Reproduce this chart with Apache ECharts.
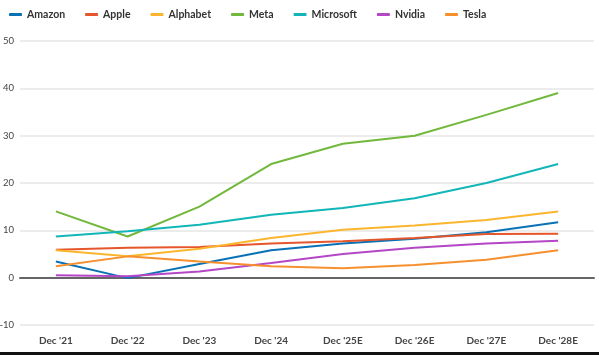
<!DOCTYPE html>
<html>
<head>
<meta charset="utf-8">
<script src="https://cdn.jsdelivr.net/npm/echarts@6/dist/echarts.min.js"></script>
<style>
html,body{margin:0;padding:0;background:#fff;}
#chart{width:599px;height:355px;}
</style>
</head>
<body>
<div id="chart"></div>
<script>
const categories = ["Dec '21","Dec '22","Dec '23","Dec '24","Dec '25E","Dec '26E","Dec '27E","Dec '28E"];
const amazon    = [3.4, -0.1, 2.9, 5.8, 7.2, 8.2, 9.6, 11.7];
const apple     = [5.9, 6.3, 6.5, 7.2, 7.7, 8.4, 9.2, 9.3];
const alphabet  = [5.8, 4.5, 6.1, 8.4, 10.1, 11.0, 12.2, 14.0];
const meta      = [14.0, 8.7, 15.0, 24.0, 28.3, 30.0, 34.4, 39.0];
const microsoft = [8.7, 9.8, 11.2, 13.3, 14.7, 16.8, 20.0, 24.0];
const nvidia    = [0.5, 0.3, 1.3, 3.1, 5.0, 6.3, 7.2, 7.8];
const tesla     = [2.4, 4.5, 3.4, 2.4, 2.0, 2.7, 3.8, 5.8];
const yTicks = [-10, 0, 10, 20, 30, 40, 50];

const seriesDefs = [
  ["Amazon", amazon, "#0a72b4"],
  ["Apple", apple, "#e6562b"],
  ["Alphabet", alphabet, "#fbb62e"],
  ["Meta", meta, "#72b83c"],
  ["Microsoft", microsoft, "#12b6b8"],
  ["Nvidia", nvidia, "#b447c6"],
  ["Tesla", tesla, "#f6902f"]
];

const chart = echarts.init(document.getElementById('chart'), null, {renderer:'canvas'});
chart.setOption({
  animation: false,
  backgroundColor: '#ffffff',
  textStyle: {fontFamily: 'Lato, "Noto Sans", sans-serif'},
  legend: {
    top: 4, left: 4,
    icon: 'roundRect',
    itemWidth: 13, itemHeight: 3,
    itemGap: 20,
    textStyle: {fontSize: 10.5, color: '#333', fontWeight: 'bold', fontFamily: 'Lato, sans-serif'},
    data: seriesDefs.map(d => d[0])
  },
  grid: {left: 20, right: 5, top: 41, bottom: 30, containLabel: false, outerBoundsMode: 'none'},
  xAxis: {
    type: 'category',
    data: categories,
    boundaryGap: true,
    axisLine: {lineStyle: {color: '#666', width: 2}},
    axisTick: {show: false},
    axisLabel: {fontSize: 10, color: '#444', margin: 11, fontWeight: 'bold'}
  },
  yAxis: {
    type: 'value',
    min: yTicks[0], max: yTicks[yTicks.length-1], interval: 10,
    axisLine: {show: false},
    axisTick: {show: false},
    axisLabel: {fontSize: 9.5, color: '#444', margin: 6},
    splitLine: {lineStyle: {color: '#e6e6e6', width: 1.5}}
  },
  series: seriesDefs.map(d => ({
    name: d[0], type: 'line', data: d[1],
    symbol: 'none',
    lineStyle: {width: 2, color: d[2]},
    itemStyle: {color: d[2]}
  })),
  graphic: [{type: 'rect', shape: {x: 0, y: 352, width: 599, height: 3}, style: {fill: '#111'}}]
});
</script>
</body>
</html>
